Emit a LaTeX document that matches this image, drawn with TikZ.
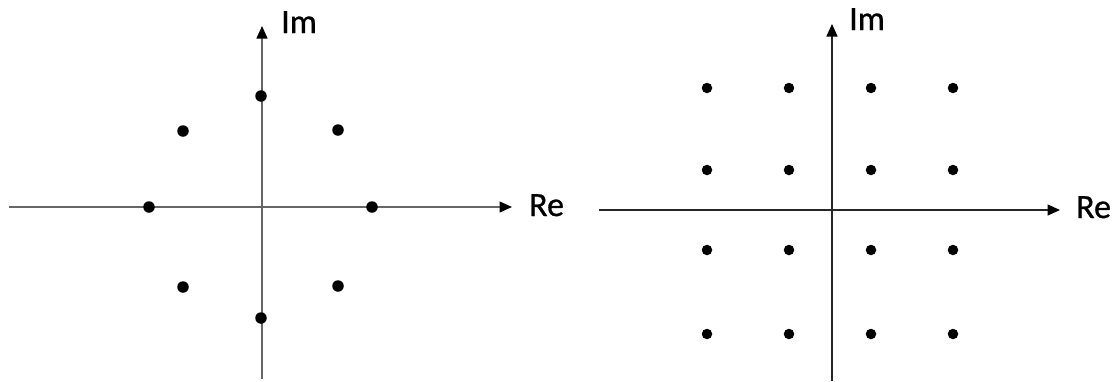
\documentclass[tikz,border=0pt]{standalone}
\usepackage{fontspec}
\setmainfont[FakeBold=0.8]{Carlito}
\usetikzlibrary{arrows.meta}
\begin{document}
\begin{tikzpicture}[x=1pt,y=-1pt,
  axisL/.style={draw=black!60, line width=1.4pt, -{Triangle[length=12.5pt,width=11pt,color=black,fill=black]}},
  axisR/.style={draw=black!85, line width=1.5pt, -{Triangle[length=12.5pt,width=11pt,color=black,fill=black]}},
  dotL/.style={circle, fill=black, inner sep=0pt, minimum size=11.5pt},
  dotR/.style={circle, fill=black, inner sep=0pt, minimum size=10.5pt},
  lab/.style={font=\fontsize{34}{36}\selectfont, inner sep=0pt, anchor=base west}]
\useasboundingbox (0,0) rectangle (1116,381);
% left diagram
\coordinate (lxs) at (9,207);
\coordinate (lxe) at (512,207);
\coordinate (lys) at (262,379);
\coordinate (lye) at (262,26);
\draw[axisL] (lxs) -- (lxe);
\draw[axisL] (lys) -- (lye);
\node[lab] (lim) at (281,33) {Im};
\node[lab] (lre) at (529,216) {Re};
\node[dotL] (p1) at (261,96) {};
\node[dotL] (p2) at (183,131) {};
\node[dotL] (p3) at (338,130) {};
\node[dotL] (p4) at (149,207) {};
\node[dotL] (p5) at (372,207) {};
\node[dotL] (p6) at (183,287) {};
\node[dotL] (p7) at (338,286) {};
\node[dotL] (p8) at (261,318) {};
% right diagram
\coordinate (rxs) at (599,210);
\coordinate (rxe) at (1060,210);
\coordinate (rys) at (832,381);
\coordinate (rye) at (832,24);
\draw[axisR] (rxs) -- (rxe);
\draw[axisR] (rys) -- (rye);
\node[lab] (rim) at (849,30) {Im};
\node[lab] (rre) at (1076,218) {Re};
\foreach \x [count=\i] in {707,789,871,953}{
  \foreach \y [count=\j] in {88,170,250,334}{
    \node[dotR] (q\i\j) at (\x,\y) {};
  }
}
\end{tikzpicture}
\end{document}
